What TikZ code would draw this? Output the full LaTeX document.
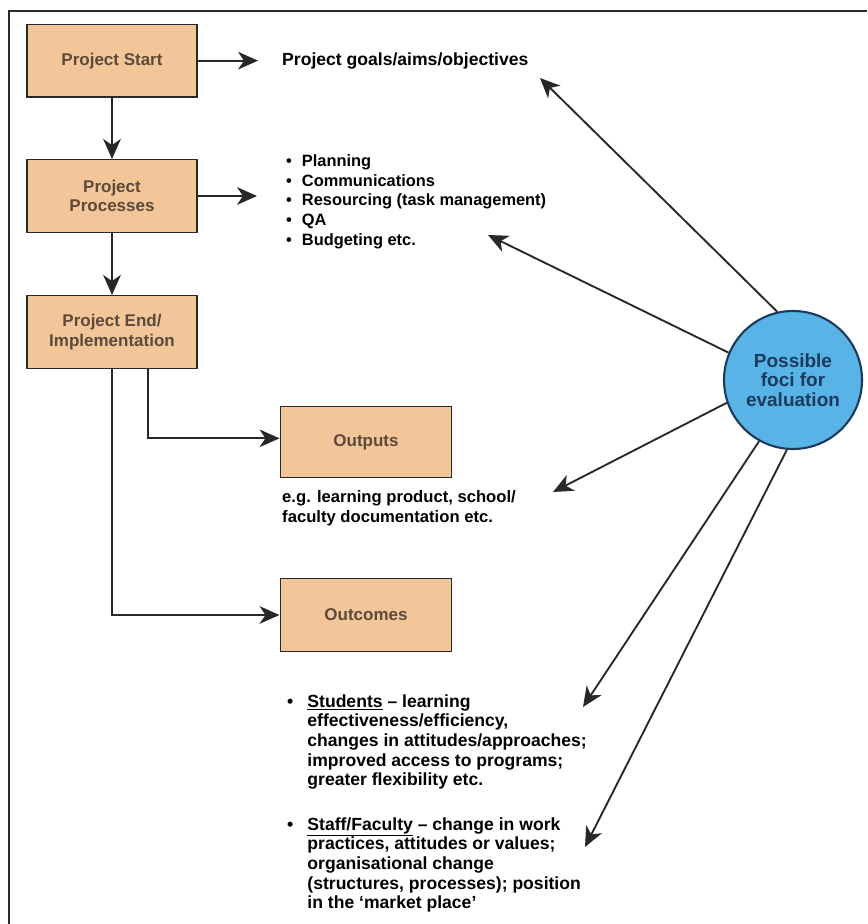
\documentclass[tikz,border=0pt]{standalone}
\usepackage{fontspec}
\setmainfont{Liberation Sans}
\usetikzlibrary{
	arrows.meta
}
\definecolor{boxfill}{RGB}{242,198,152}
\definecolor{boxtext}{RGB}{92,74,58}
\definecolor{focifill}{RGB}{88,180,230}
\definecolor{fociline}{RGB}{28,58,92}
\definecolor{linegray}{RGB}{40,40,40}

\begin{document}
\begin{tikzpicture}[
    stage/.style={draw=linegray,line width=1.1pt,fill=boxfill,minimum width=+5.1cm,minimum height=+2.18cm,align=center,text=boxtext,font=\bfseries\fontsize{14.5}{16.5}\selectfont},
    note/.style={anchor=west,align=left,inner sep=0pt,font=\bfseries\fontsize{14}{16.7}\selectfont},
    conn/.style={->,>={Stealth[length=17pt,width=15pt,inset=5pt]},line width=1.6pt,draw=linegray}
  ]
    \useasboundingbox (0,0) rectangle (26.01,27.72);
    % Definitions
    \coordinate (PS) at (3.36,25.9);
    \coordinate (PP) at (3.36,21.84);
    \coordinate (PE) at (3.36,17.76);
    \coordinate (OP) at (10.98,14.45);
    \coordinate (OC) at (10.98,9.27);
    \coordinate (PF) at (23.79,16.32);
    \coordinate (GL) at (8.46,25.9);
    \coordinate (PL) at (8.58,21.66);
    \coordinate (OD) at (8.46,12.48);
    \coordinate (SD) at (8.61,5.445);
    \coordinate (FD) at (8.61,1.755);
    % Arrow tips
    \coordinate (GT) at (16.2,25.38);
    \coordinate (PT) at (14.64,20.67);
    \coordinate (OT) at (16.59,12.96);
    \coordinate (ST) at (17.49,6.51);
    \coordinate (FT) at (17.55,2.31);
    % Frame
    \draw[line width=1.5pt,draw=linegray] (0.27,0) |- (26.01,27.39);
    % Nodes
    \node(PrSt) at (PS) [stage] {Project Start};
    \node(PrPr) at (PP) [stage] {Project\\Processes};
    \node(PrEn) at (PE) [stage] {Project End/\\Implementation};
    \node(Outp) at (OP) [stage,minimum width=+5.15cm,minimum height=+2.13cm] {Outputs};
    \node(Outc) at (OC) [stage,minimum width=+5.15cm] {Outcomes};
    \node(PoFo) at (PF) [circle,draw=fociline,line width=1.8pt,fill=focifill,minimum size=+4.14cm,inner sep=0pt,align=center,text=fociline,font=\bfseries\fontsize{16.2}{16.8}\selectfont] {Possible\\foci for\\evaluation};
    \node(Goal) at (GL) [note,font=\bfseries\fontsize{15}{16.7}\selectfont] {Project goals/aims/objectives};
    \node(Proc) at (PL) [note] {\begin{tabular}{@{}l@{\hspace{8.5pt}}l@{}}
      \textbullet & Planning\\
      \textbullet & Communications\\
      \textbullet & Resourcing (task management)\\
      \textbullet & QA\\
      \textbullet & Budgeting etc.
    \end{tabular}};
    \node(OuDe) at (OD) [note,font=\bfseries\fontsize{14.2}{17}\selectfont] {e.g. learning product, school/\\faculty documentation etc.};
    \node(StDe) at (SD) [note,font=\bfseries\fontsize{15}{16.8}\selectfont] {\begin{tabular}{@{}l@{\hspace{12pt}}l@{}}
      \textbullet & \underline{Students} -- learning\\
      & effectiveness/efficiency,\\
      & changes in attitudes/approaches;\\
      & improved access to programs;\\
      & greater flexibility etc.
    \end{tabular}};
    \node(FaDe) at (FD) [note,font=\bfseries\fontsize{15}{16.8}\selectfont] {\begin{tabular}{@{}l@{\hspace{12pt}}l@{}}
      \textbullet & \underline{Staff/Faculty} -- change in work\\
      & practices, attitudes or values;\\
      & organisational change\\
      & (structures, processes); position\\
      & in the `market place'
    \end{tabular}};
    % Arrows
    \draw[conn] (PrSt) -- (PrPr);
    \draw[conn] (PrPr) -- (PrEn);
    \draw[conn,shorten >=0.72cm] (PrSt) -- (Goal);
    \draw[conn,shorten >=0.87cm] (PrPr.east) -- (PrPr.east -| Proc.west);
    \draw[conn] ([xshift=1.08cm]PrEn.south) |- ([yshift=0.12cm]Outp.west);
    \draw[conn] (PrEn) |- (Outc);
    \draw[conn] (PoFo.103)   -- (GT);
    \draw[conn] (PoFo.157.6) -- (PT);
    \draw[conn] (PoFo.199)   -- (OT);
    \draw[conn] (PoFo.241)   -- (ST);
    \draw[conn] (PoFo.265)   -- (FT);
\end{tikzpicture}
\end{document}
